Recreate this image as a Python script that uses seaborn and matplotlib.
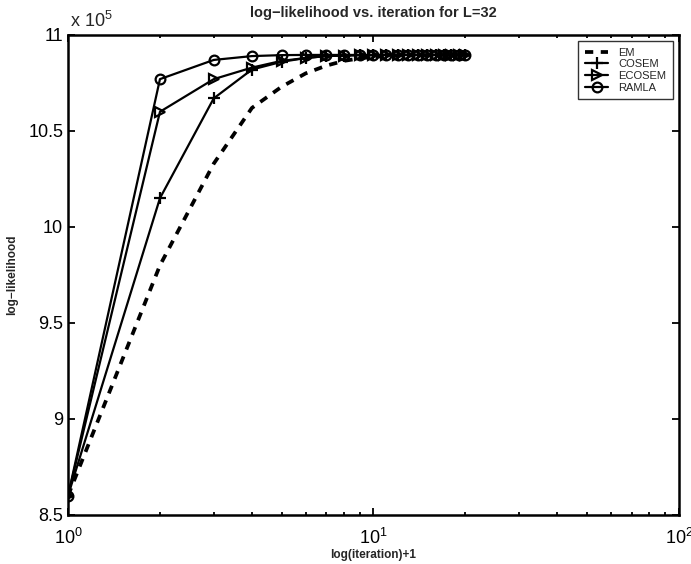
import numpy as np
import pandas as pd
import seaborn as sns
import matplotlib.pyplot as plt
from matplotlib.ticker import FixedLocator, FuncFormatter, LogLocator, NullFormatter

# iterations 1..20, log-likelihood values in units of 1e5
iterations = list(range(1, 21))
em = [8.60, 9.80, 10.33, 10.62, 10.73, 10.80, 10.84, 10.865, 10.878, 10.886,
      10.890, 10.893, 10.894, 10.895, 10.895, 10.896, 10.896, 10.896, 10.896, 10.896]
cosem = [8.60, 10.15, 10.67, 10.82, 10.86, 10.88, 10.89, 10.893, 10.895, 10.895,
         10.896, 10.896, 10.896, 10.896, 10.896, 10.896, 10.896, 10.896, 10.896, 10.896]
ecosem = [8.60, 10.60, 10.77, 10.83, 10.865, 10.88, 10.89, 10.893, 10.895, 10.895,
          10.896, 10.896, 10.896, 10.896, 10.896, 10.896, 10.896, 10.896, 10.896, 10.896]
ramla = [8.60, 10.77, 10.87, 10.89, 10.895, 10.896, 10.896, 10.896, 10.896, 10.896,
         10.896, 10.896, 10.896, 10.896, 10.896, 10.896, 10.896, 10.896, 10.896, 10.896]

yticks = [8.5, 9, 9.5, 10, 10.5, 11]

sns.set_style('ticks')
plt.rcParams['font.family'] = ['Liberation Sans', 'DejaVu Sans']
plt.rcParams['mathtext.default'] = 'regular'

data = pd.DataFrame({
    'iteration': iterations * 4,
    'value': em + cosem + ecosem + ramla,
    'method': ['EM'] * 20 + ['COSEM'] * 20 + ['ECOSEM'] * 20 + ['RAMLA'] * 20,
})

fig = plt.figure(figsize=(6.91, 5.64), dpi=100)
ax = fig.add_axes([0.0984, 0.0869, 0.8842, 0.8511])

styles = {
    'EM': dict(linestyle=(0, (2.2, 2.0)), linewidth=2.7, marker='None'),
    'COSEM': dict(linestyle='-', linewidth=1.6, marker='+', markersize=8),
    'ECOSEM': dict(linestyle='-', linewidth=1.6, marker='>', markersize=7),
    'RAMLA': dict(linestyle='-', linewidth=1.6, marker='o', markersize=7),
}
for name in ['EM', 'COSEM', 'ECOSEM', 'RAMLA']:
    sub = data[data['method'] == name]
    sns.lineplot(data=sub, x='iteration', y='value', ax=ax, color='black',
                 label=name, estimator=None, sort=False)
    line = ax.lines[-1]
    st = styles[name]
    line.set_linestyle(st['linestyle'])
    line.set_linewidth(st['linewidth'])
    line.set_marker(st['marker'])
    if st['marker'] != 'None':
        line.set_markersize(st['markersize'])
        line.set_markeredgewidth(1.6)
        line.set_markeredgecolor('black')
        line.set_markerfacecolor('none')

ax.set_xscale('log')
ax.set_xlim(1, 100)
ax.set_ylim(8.5, 11)
ax.yaxis.set_major_locator(FixedLocator(yticks))
ax.yaxis.set_major_formatter(FuncFormatter(lambda v, p: '%g' % v))
ax.xaxis.set_major_locator(FixedLocator([1, 10, 100]))
ax.xaxis.set_major_formatter(FuncFormatter(lambda v, p: '$10^{%d}$' % int(round(np.log10(v)))))
ax.xaxis.set_minor_locator(LogLocator(base=10, subs=np.arange(2, 10)))
ax.xaxis.set_minor_formatter(NullFormatter())

ax.tick_params(which='both', direction='in', top=True, right=True, colors='black',
               labelsize=13, width=1.3)
ax.tick_params(which='major', length=5)
ax.tick_params(which='minor', length=2.5)
ax.tick_params(axis='x', which='major', pad=9)
for s in ax.spines.values():
    s.set_linewidth(1.8)
    s.set_color('black')
    s.set_visible(True)

ax.set_title('log\u2212likelihood vs. iteration for L=32', fontsize=10.5, fontweight='bold', pad=13)
ax.set_xlabel('log(iteration)+1', fontsize=8.5, fontweight='bold')
ax.set_ylabel('log\u2212likelihood', fontsize=8.5, fontweight='bold')
ax.xaxis.set_label_coords(0.5, -0.071)
ax.yaxis.set_label_coords(-0.082, 0.5)
ax.text(0.003, 1.008, 'x $10^5$', transform=ax.transAxes, fontsize=13, ha='left', va='bottom')

handles = ax.lines[:4]
leg = ax.legend(handles, ['EM', 'COSEM', 'ECOSEM', 'RAMLA'], loc='upper right',
                bbox_to_anchor=(0.99, 0.9875), fontsize=8,
                frameon=True, fancybox=False, handlelength=2.1, borderpad=0.6,
                labelspacing=0.15, handletextpad=0.9, borderaxespad=0)
leg.get_frame().set_edgecolor('black')
leg.get_frame().set_linewidth(1.0)

fig.savefig('out.png', dpi=100)
